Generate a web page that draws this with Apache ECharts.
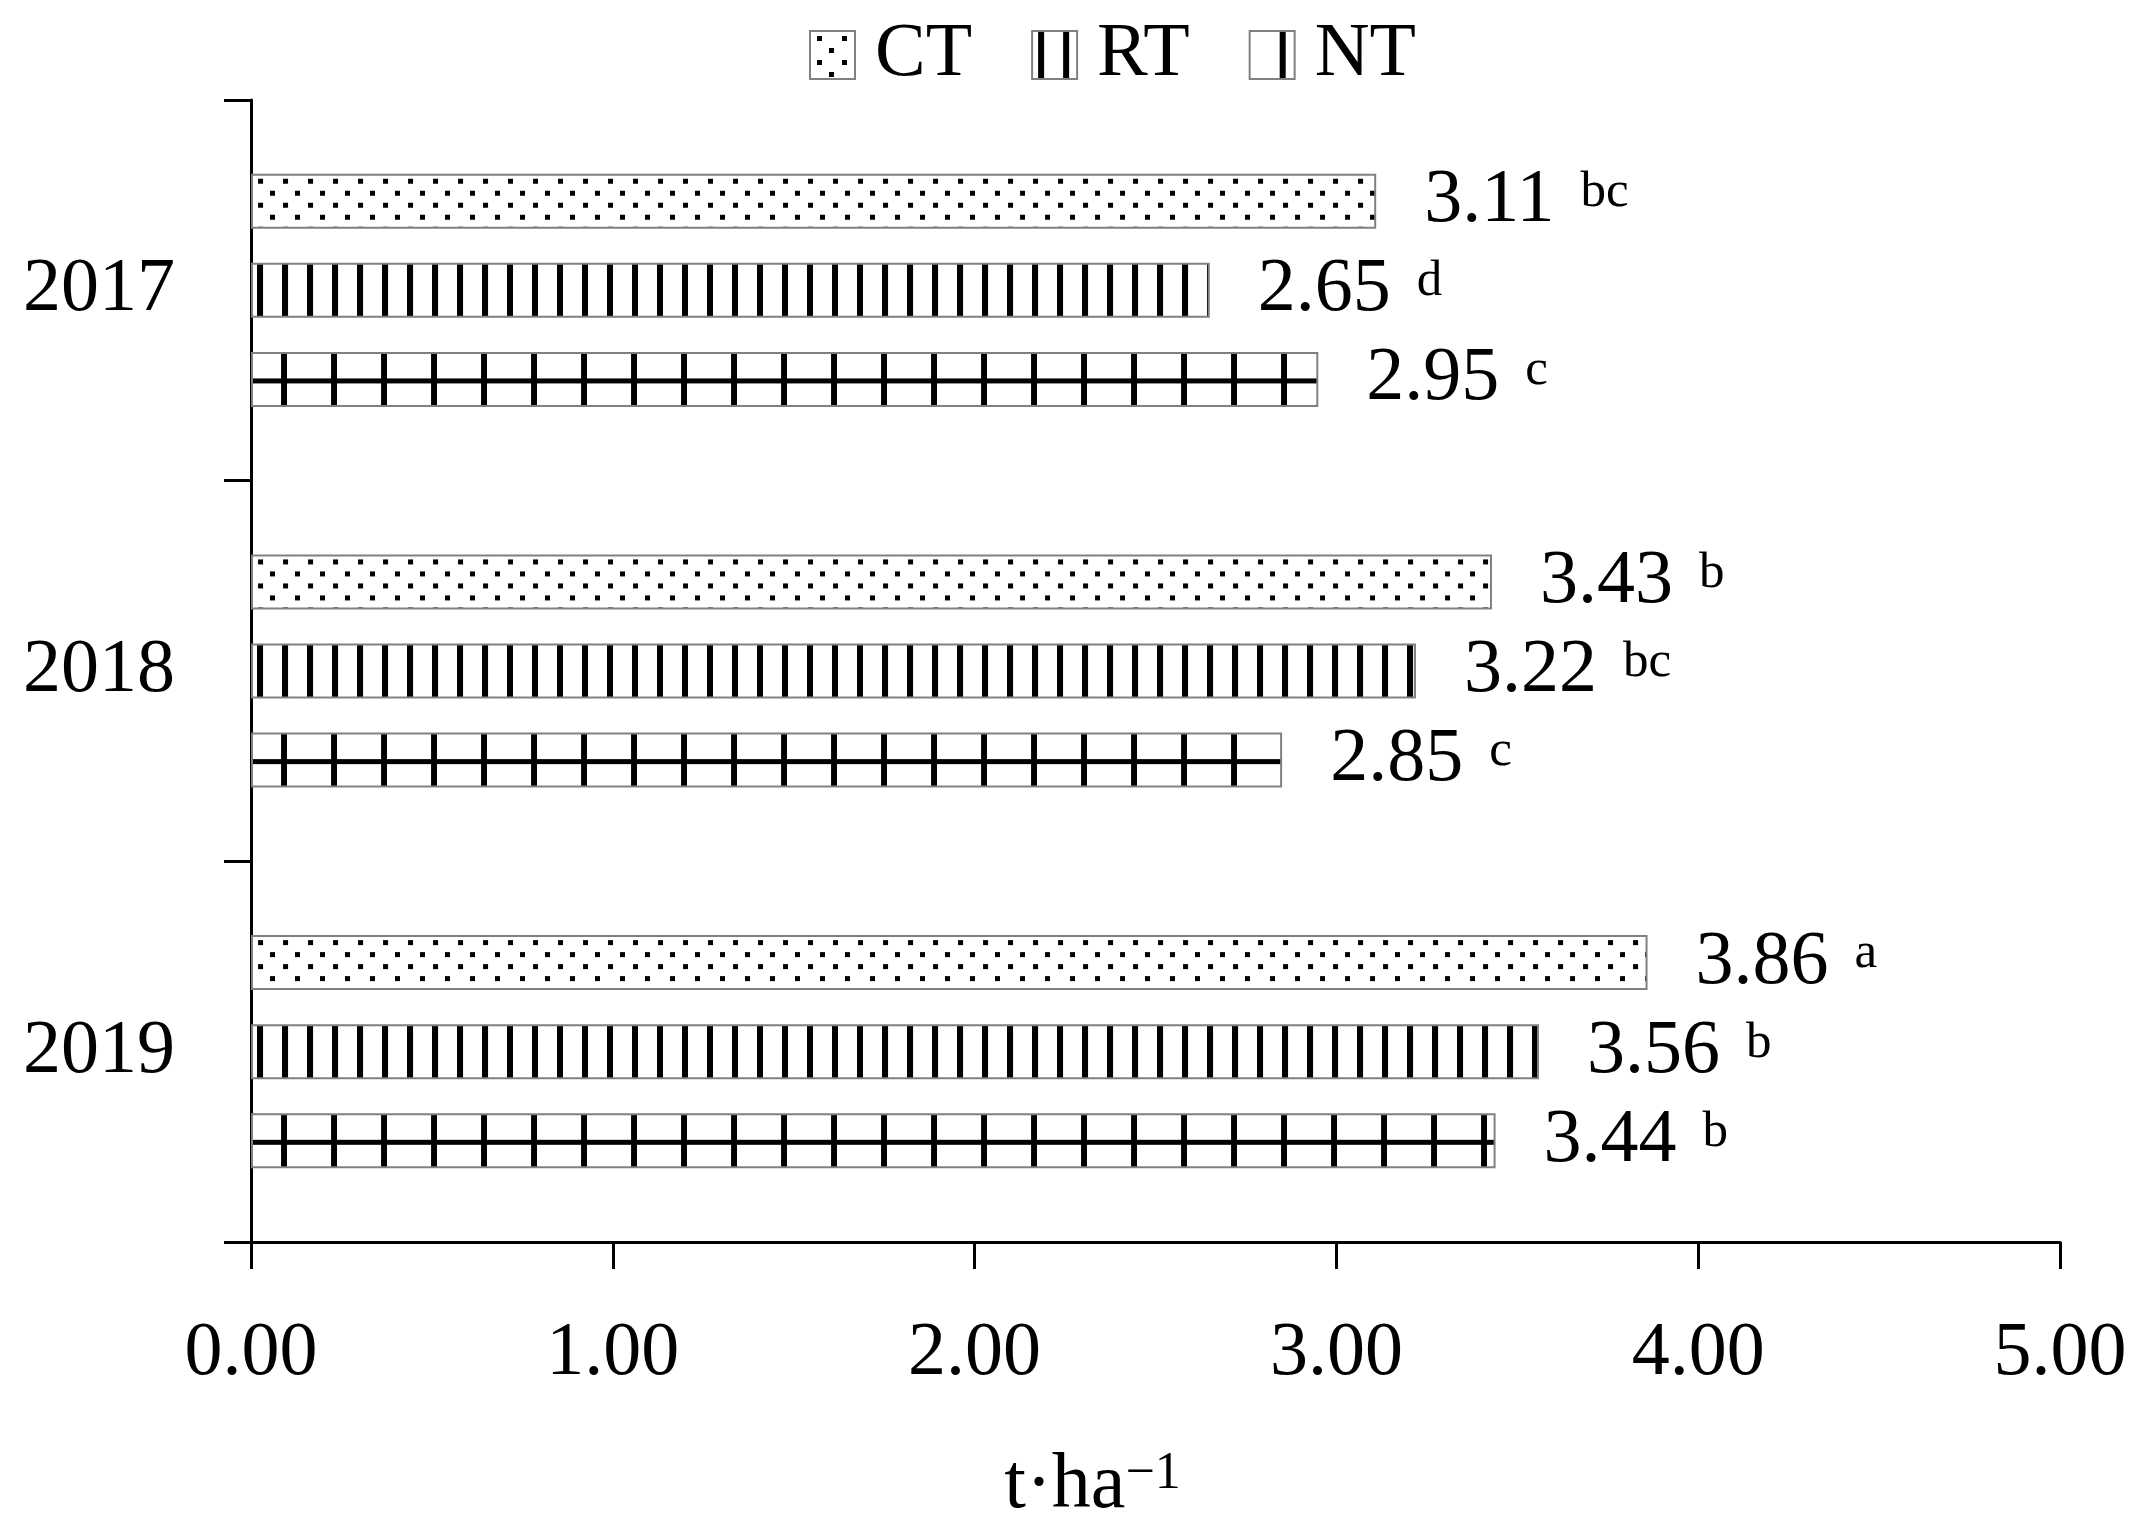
<!DOCTYPE html>
<html>
<head>
<meta charset="utf-8">
<script src="https://cdn.jsdelivr.net/npm/echarts@6/dist/echarts.min.js"></script>
<style>
  html, body { margin: 0; padding: 0; background: #ffffff; }
  #chartBar { width: 2142px; height: 1539px; }
</style>
</head>
<body>
<div id="chartBar"></div>
<script>
// 数据
const years = ["2017", "2018", "2019"];
const seriesNames = ["CT", "RT", "NT"];
const ctValues = [3.11, 3.43, 3.86];
const rtValues = [2.65, 3.22, 3.56];
const ntValues = [2.95, 2.85, 3.44];
const ctLetters = ["bc", "b", "a"];
const rtLetters = ["d", "bc", "b"];
const ntLetters = ["c", "c", "b"];
const xTicks = [0, 1, 2, 3, 4, 5];

const FONT = '"Liberation Serif", "DejaVu Serif", serif';
const values = [ctValues, rtValues, ntValues];
const letters = [ctLetters, rtLetters, ntLetters];

// 生成填充图案
function makeTile(w, h, draw) {
  const c = document.createElement("canvas");
  c.width = w;
  c.height = h;
  const ctx = c.getContext("2d");
  ctx.fillStyle = "#ffffff";
  ctx.fillRect(0, 0, w, h);
  ctx.fillStyle = "#000000";
  draw(ctx);
  return c;
}
const tiles = [
  makeTile(25, 24, (ctx) => {
    ctx.fillRect(7, 5, 5, 5);
    ctx.fillRect(19, 17, 5, 5);
  }),
  makeTile(25, 10, (ctx) => {
    ctx.fillRect(6, 0, 6, 10);
  }),
  makeTile(50, 100, (ctx) => {
    ctx.fillRect(30, 0, 6, 100);
    ctx.fillRect(0, 48, 50, 5);
  }),
];
function pattern(tile, x, y) {
  return { image: tile, repeat: "repeat", x: x, y: y };
}

const axisLineStyle = { color: "#000000", width: 3 };

const option = {
  animation: false,
  backgroundColor: "#ffffff",
  textStyle: { fontFamily: FONT },
  legend: {
    top: 17,
    left: 809,
    padding: 0,
    icon: "rect",
    itemWidth: 45,
    itemHeight: 48,
    itemGap: 59,
    textStyle: { fontSize: 76, color: "#000000", fontFamily: FONT, padding: [0, 0, 0, 15] },
    data: seriesNames,
  },
  grid: {
    top: 100,
    left: 251,
    right: 82,
    bottom: 297,
  },
  xAxis: {
    type: "value",
    min: xTicks[0],
    max: xTicks[xTicks.length - 1],
    interval: xTicks[1] - xTicks[0],
    axisLine: { show: true, lineStyle: axisLineStyle },
    axisTick: { show: true, length: 27, lineStyle: axisLineStyle },
    splitLine: { show: false },
    axisLabel: {
      fontSize: 76,
      color: "#000000",
      fontFamily: FONT,
      margin: 74,
      formatter: (v) => v.toFixed(2),
    },
    name: "{a|t·ha}{s|\u22121}",
    nameLocation: "middle",
    nameGap: 206,
    nameTextStyle: {
      padding: [0, 126, 0, 0],
      rich: {
        a: { fontSize: 78, fontFamily: FONT, color: "#000000", lineHeight: 78 },
        s: { fontSize: 52, fontFamily: FONT, color: "#000000", lineHeight: 52, verticalAlign: "top" },
      },
    },
  },
  yAxis: {
    type: "category",
    data: years,
    inverse: true,
    axisLine: { show: true, lineStyle: axisLineStyle },
    axisTick: { show: true, length: 27, lineStyle: axisLineStyle },
    axisLabel: { fontSize: 76, color: "#000000", fontFamily: FONT, margin: 76 },
  },
  series: seriesNames.map((name, i) => ({
    name: name,
    type: "bar",
    data: values[i],
    barWidth: 55,
    barGap: "62%",
    itemStyle: {
      color: pattern(tiles[i], 0, 0),
      borderColor: "#808080",
      borderWidth: 2,
    },
    label: {
      show: true,
      position: "right",
      distance: 48,
      formatter: (p) => "{v|" + p.value.toFixed(2) + "}{s|" + letters[i][p.dataIndex] + "}",
      rich: {
        v: { fontSize: 76, fontFamily: FONT, color: "#000000", lineHeight: 76 },
        s: { fontSize: 51, fontFamily: FONT, color: "#000000", lineHeight: 51, verticalAlign: "top", padding: [4, 0, 0, 26] },
      },
    },
  })),
};

const myChart = echarts.init(document.getElementById("chartBar"));
myChart.setOption(option);

// 让图案跟随每根柱子的位置对齐
myChart.setOption({
  series: seriesNames.map((name, i) => {
    const data = myChart.getModel().getSeriesByIndex(i).getData();
    return {
      data: values[i].map((v, j) => {
        const l = data.getItemLayout(j);
        const top = Math.min(l.y, l.y + l.height);
        const y = i === 2 ? top + Math.abs(l.height) / 2 - 49 : top;
        return { value: v, itemStyle: { color: pattern(tiles[i], l.x, y) } };
      }),
    };
  }),
});
</script>
</body>
</html>
